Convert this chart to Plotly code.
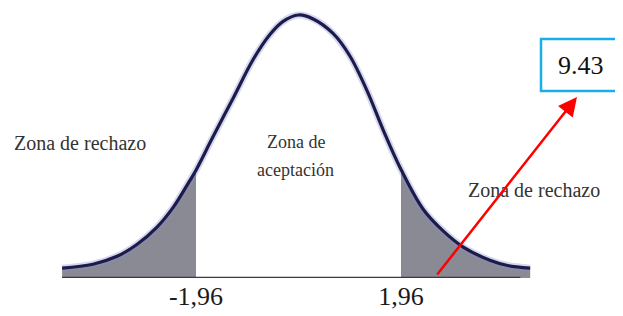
import plotly.graph_objects as go

# ---- data (z, relative density) ----
curve_z = [-4.52, -3.93, -3.47, -3.09, -2.71, -2.40, -2.11, -1.96, -1.64, -1.24,
           -0.87, -0.55, -0.30, 0.00, 0.28, 0.66, 0.98, 1.31, 1.62, 1.96,
           2.38, 2.76, 3.15, 3.66, 4.00, 4.43]
curve_y = [0.015, 0.021, 0.033, 0.051, 0.077, 0.107, 0.144, 0.164, 0.214, 0.275,
           0.332, 0.370, 0.390, 0.400, 0.394, 0.372, 0.338, 0.285, 0.225, 0.165,
           0.105, 0.072, 0.047, 0.027, 0.019, 0.015]
critical = [-1.96, 1.96]
tick_text = ["-1,96", "1,96"]
stat_label = "9.43"
baseline_z = [-4.52, 4.24]

# page geometry (browser body has an 8px margin)
OFF = 8
PAGE_W, PAGE_H = 623, 316
W, H = PAGE_W - OFF, PAGE_H - OFF
CX, SX = 298.5, 52.3        # page pixel of z=0, pixels per z unit
BASE, SY = 278.0, 263.0 / 0.40

def px2x(p):
    return (p - CX) / SX

def px2y(p):
    return (BASE - p) / SY

fig = go.Figure()

left_z = [z for z in curve_z if z <= critical[0]]
left_y = [y for z, y in zip(curve_z, curve_y) if z <= critical[0]]
right_z = [z for z in curve_z if z >= critical[1]]
right_y = [y for z, y in zip(curve_z, curve_y) if z >= critical[1]]

shade = "#8a8a94"
for tz, ty in ((left_z, left_y), (right_z, right_y)):
    fig.add_trace(go.Scatter(x=tz, y=ty, mode="lines", fill="tozeroy",
                             fillcolor=shade, line=dict(width=0, color=shade, shape="spline"),
                             hoverinfo="skip", showlegend=False))

# baseline
fig.add_trace(go.Scatter(x=baseline_z, y=[0, 0], mode="lines",
                         line=dict(color="#3a3a3a", width=2.5),
                         hoverinfo="skip", showlegend=False))

# soft halo + curve
fig.add_trace(go.Scatter(x=curve_z, y=curve_y, mode="lines",
                         line=dict(color="rgba(140,140,210,0.35)", width=7, shape="spline"),
                         hoverinfo="skip", showlegend=False))
fig.add_trace(go.Scatter(x=curve_z, y=curve_y, mode="lines",
                         line=dict(color="#1c1c4a", width=3.2, shape="spline"),
                         hoverinfo="skip", showlegend=False))

serif = "Liberation Serif, Times New Roman, serif"
fig.add_annotation(x=px2x(80), y=px2y(143), text="Zona de rechazo", showarrow=False,
                   font=dict(family=serif, size=20, color="#333333"))
fig.add_annotation(x=px2x(534), y=px2y(190), text="Zona de rechazo", showarrow=False,
                   font=dict(family=serif, size=20, color="#333333"))
fig.add_annotation(x=px2x(296), y=px2y(142), text="Zona de", showarrow=False,
                   font=dict(family=serif, size=18, color="#333333"))
fig.add_annotation(x=px2x(295), y=px2y(170), text="aceptación", showarrow=False,
                   font=dict(family=serif, size=18, color="#333333"))

# value box
fig.add_shape(type="rect", x0=px2x(541), x1=px2x(621), y0=px2y(91), y1=px2y(39),
              line=dict(color="#1aaee8", width=2.5), fillcolor="white")
fig.add_annotation(x=px2x(581), y=px2y(65), text=stat_label, showarrow=False,
                   font=dict(family=serif, size=26, color="#111111"))

# red arrow
fig.add_annotation(x=px2x(577), y=px2y(97), ax=px2x(436), ay=px2y(276),
                   xref="x", yref="y", axref="x", ayref="y", text="",
                   showarrow=True, arrowhead=2, arrowsize=1.5, arrowwidth=2.5,
                   arrowcolor="#ff0000", standoff=0, startstandoff=0)

fig.update_layout(width=W, height=H, margin=dict(l=0, r=0, t=0, b=PAGE_H - BASE),
                  paper_bgcolor="white", plot_bgcolor="white", showlegend=False)
fig.update_xaxes(range=[px2x(OFF), px2x(PAGE_W)], tickvals=critical, ticktext=tick_text,
                 showgrid=False, zeroline=False, showline=False, ticks="",
                 tickfont=dict(family=serif, size=26, color="#1a1a1a"))
fig.update_yaxes(range=[0, px2y(OFF)], visible=False)

fig.write_html("out.html")
